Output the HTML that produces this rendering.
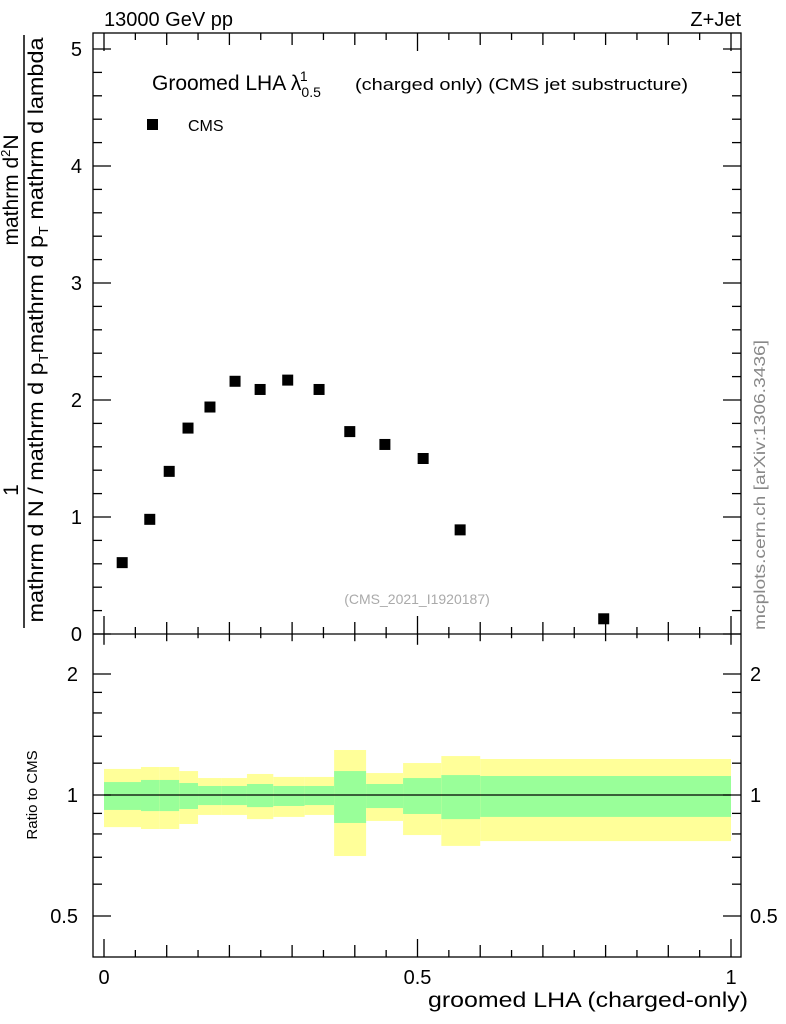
<!DOCTYPE html>
<html><head><meta charset="utf-8"><style>
body{margin:0;background:#fff}
svg{display:block;font-family:"Liberation Sans",sans-serif}
</style></head><body>
<svg id="c" width="786" height="1024" viewBox="0 0 786 1024">
<text x="104" y="26" font-size="20">13000 GeV pp</text>
<text x="741" y="26" font-size="20" text-anchor="end">Z+Jet</text>
<text x="152" y="90" font-size="21">Groomed LHA λ<tspan font-size="14" dy="7">0.5</tspan><tspan font-size="14" dx="-21" dy="-16">1</tspan></text>
<text x="355" y="90" font-size="17" textLength="333" lengthAdjust="spacingAndGlyphs">(charged only) (CMS jet substructure)</text>
<rect x="147" y="119" width="11" height="11" fill="#000"/>
<text x="188" y="131" font-size="16">CMS</text>
<text x="417" y="604" font-size="14" fill="#aaa" text-anchor="middle">(CMS_2021_I1920187)</text>
<text transform="translate(765,485) rotate(-90)" font-size="16" fill="#888" text-anchor="middle" textLength="290" lengthAdjust="spacingAndGlyphs">mcplots.cern.ch [arXiv:1306.3436]</text>
<g font-size="21">
<text transform="translate(18,190) rotate(-90)" text-anchor="middle">mathrm d<tspan font-size="13" dy="-8">2</tspan><tspan dy="8">N</tspan></text>
<text transform="translate(18,490) rotate(-90)" text-anchor="middle">1</text>
<line x1="24" y1="35" x2="24" y2="628" stroke="#000" stroke-width="1.5"/>
<text transform="translate(43,330) rotate(-90)" text-anchor="middle" textLength="585" lengthAdjust="spacingAndGlyphs">mathrm d N / mathrm d p<tspan font-size="13" dy="5">T</tspan><tspan dy="-5">mathrm d p</tspan><tspan font-size="13" dy="5">T</tspan><tspan dy="-5"> mathrm d lambda</tspan></text>
</g>
<text transform="translate(37,795) rotate(-90)" font-size="15" text-anchor="middle">Ratio to CMS</text>
<text x="748" y="1007" font-size="21" text-anchor="end" textLength="320" lengthAdjust="spacingAndGlyphs">groomed LHA (charged-only)</text>
<g id="bands"></g><g id="marks"></g><g id="axes"></g>
</svg>
<script>
const xVals=[0.029,0.073,0.104,0.134,0.169,0.209,0.249,0.293,0.343,0.392,0.448,0.509,0.568,0.797];
const yVals=[0.61,0.98,1.39,1.76,1.94,2.16,2.09,2.17,2.09,1.73,1.62,1.50,0.89,0.13];
const binEdges=[0,0.059,0.089,0.12,0.15,0.188,0.228,0.27,0.32,0.367,0.418,0.477,0.538,0.6,1.0];
const yelHi=[1.161,1.174,1.174,1.147,1.102,1.102,1.128,1.109,1.109,1.294,1.134,1.201,1.250,1.229];
const grnHi=[1.077,1.090,1.090,1.071,1.053,1.053,1.065,1.053,1.053,1.147,1.065,1.102,1.121,1.115];
const grnLo=[0.918,0.912,0.912,0.923,0.944,0.944,0.933,0.939,0.944,0.852,0.928,0.897,0.871,0.882];
const yelLo=[0.832,0.823,0.823,0.847,0.892,0.892,0.871,0.882,0.892,0.705,0.862,0.795,0.747,0.768];
const mainTicks=[0,1,2,3,4,5];
const ratioTicks=[0.5,1,2];
const xTicks=[0,0.5,1];
const NS='http://www.w3.org/2000/svg';
const L=93,R=741,T1=33,B1=634,B2=957;
const X=v=>104+v*627, Y=v=>634-v*117, YR=v=>795-121*Math.log2(v);
function mk(p,t,a){const e=document.createElementNS(NS,t);for(const k in a)e.setAttribute(k,a[k]);document.getElementById(p).appendChild(e);return e;}
for(let i=0;i<yelHi.length;i++){
 const x0=X(binEdges[i]),w=X(binEdges[i+1])-x0;
 const y1=mk('bands','rect',{x:x0,y:YR(yelHi[i]),width:w,height:YR(yelLo[i])-YR(yelHi[i]),fill:'#ffff99'});
 
 
 const g=mk('bands','rect',{x:x0,y:YR(grnHi[i]),width:w,height:YR(grnLo[i])-YR(grnHi[i]),fill:'#99ff99'});
 
 
}
const rl=mk('marks','line',{x1:X(0),x2:X(1),y1:YR(1),y2:YR(1),stroke:'#000','stroke-width':1.3});


for(let i=0;i<xVals.length;i++){
 const p=mk('marks','rect',{x:X(xVals[i])-5.5,y:Y(yVals[i])-5.5,width:11,height:11,fill:'#000'});
 
 
}
const A={stroke:'#000','stroke-width':1.3,fill:'none'};
mk('axes','rect',Object.assign({x:L,y:T1,width:R-L,height:B2-T1},A));
mk('axes','line',Object.assign({x1:L,x2:R,y1:B1,y2:B1},A));
function ln(x1,y1,x2,y2){mk('axes','line',Object.assign({x1,y1,x2,y2},A));}
function tx(x,y,s,anchor,fs){const t=mk('axes','text',{x,y,'font-size':fs||20,'text-anchor':anchor});t.textContent=s;
 
 }
for(let k=0;k<=20;k++){const v=k*0.05,x=X(v);const len=k%10==0?18:(k%2==0?12:7);
 ln(x,B1,x,B1-len);ln(x,B1,x,B1+len*0.6);ln(x,B2,x,B2-len);ln(x,T1,x,T1+len);}
xTicks.forEach(v=>tx(X(v),984,String(v),'middle'));
for(let k=0;k<=25;k++){const v=k*0.2,y=Y(v);const len=k%5==0?18:9;ln(L,y,L+len,y);ln(R,y,R-len,y);}
mainTicks.forEach(v=>tx(82,Y(v)+7,String(v),'end'));
[0.5,0.6,0.7,0.8,0.9,1,1.2,1.4,1.6,1.8,2].forEach(v=>{const y=YR(v);const len=[0.5,1,2].includes(v)?18:9;ln(L,y,L+len,y);ln(R,y,R-len,y);});
ratioTicks.forEach(v=>{tx(78,YR(v)+7,String(v),'end');tx(750,YR(v)+7,String(v),'start');});
</script>
</body></html>
